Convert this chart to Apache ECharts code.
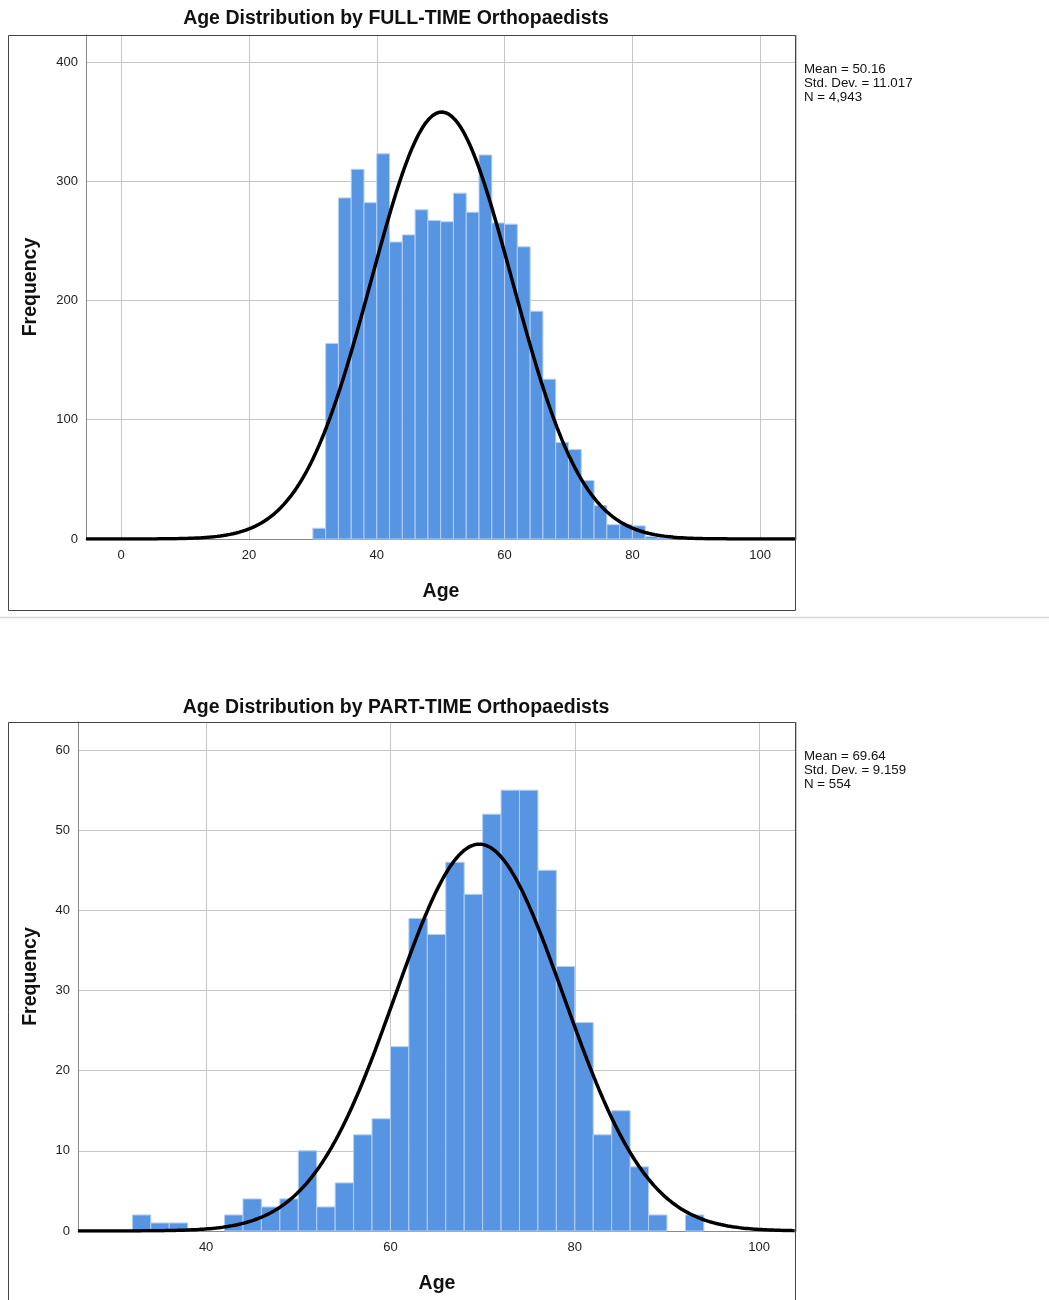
<!DOCTYPE html>
<html>
<head>
<meta charset="utf-8">
<title>Age Distribution by Orthopaedists</title>
<script src="https://cdn.jsdelivr.net/npm/echarts@6/dist/echarts.min.js"></script>
<style>
  html, body { margin: 0; padding: 0; background: #fff; }
  #chart { width: 1049px; height: 1300px; }
</style>
</head>
<body>
<div id="chart"></div>
<script>
// histogram bins are 2 years wide, labelled by their left edge
var BIN_WIDTH = 2;

var fullBinStarts = [30, 32, 34, 36, 38, 40, 42, 44, 46, 48, 50, 52, 54, 56,
  58, 60, 62, 64, 66, 68, 70, 72, 74, 76, 78, 80, 82, 84];
var fullCounts = [9, 164, 286, 310, 282, 323, 249, 255, 276, 267, 266, 290, 274, 322,
  265, 264, 245, 191, 134, 81, 75, 49, 28, 12, 12, 11, 2, 1];
var fullStats = { mean: 50.16, sd: 11.017, n: 4943 };
var fullStatLines = ["Mean = 50.16", "Std. Dev. = 11.017", "N = 4,943"];

var partBinStarts = [32, 34, 36, 38, 40, 42, 44, 46, 48, 50, 52, 54, 56, 58,
  60, 62, 64, 66, 68, 70, 72, 74, 76, 78, 80, 82, 84, 86, 88, 90, 92];
var partCounts = [2, 1, 1, 0, 0, 2, 4, 3, 4, 10, 3, 6, 12, 14,
  23, 39, 37, 46, 42, 52, 55, 55, 45, 33, 26, 12, 15, 8, 2, 0, 2];
var partStats = { mean: 69.64, sd: 9.159, n: 554 };
var partStatLines = ["Mean = 69.64", "Std. Dev. = 9.159", "N = 554"];

var FONT = "'Liberation Sans', Arial, sans-serif";
var BAR_COLOR = "#5795e3";
var GRID_COLOR = "#c6c6c6";

var chart = echarts.init(document.getElementById("chart"));

// normal curve as SPSS draws it: density scaled by N * bin width
function normalCurve(stats, xMin, xMax) {
  var pts = [];
  var k = stats.n * BIN_WIDTH / (stats.sd * Math.sqrt(2 * Math.PI));
  for (var x = xMin; x <= xMax + 0.001; x += 0.25) {
    var z = (x - stats.mean) / stats.sd;
    pts.push([x, k * Math.exp(-0.5 * z * z)]);
  }
  return pts;
}

function renderBin(params, api) {
  var start = api.value(0);
  var base = api.coord([start, 0]);
  var top = api.coord([start + BIN_WIDTH, api.value(1)]);
  if (api.value(1) <= 0) return null;
  return {
    type: "rect",
    shape: {
      x: base[0],
      y: top[1],
      width: top[0] - base[0],
      height: base[1] - top[1]
    },
    style: { fill: BAR_COLOR, stroke: "#b4cff2", lineWidth: 1 }
  };
}

function xAxisFor(gridIndex, min, max) {
  return {
    type: "value",
    gridIndex: gridIndex,
    min: min,
    max: max,
    minInterval: 20,
    maxInterval: 20,
    name: "Age",
    nameLocation: "middle",
    nameGap: 43,
    nameTextStyle: { fontFamily: FONT, fontSize: 19.5, fontWeight: "bold", color: "#111" },
    axisLine: { show: true, onZero: false, lineStyle: { color: "#8a8a8a", width: 1 } },
    axisTick: { show: false },
    axisLabel: {
      fontFamily: FONT, fontSize: 13, color: "#222", margin: 10,
      formatter: function (v) { return v % 20 === 0 ? String(v) : ""; }
    },
    splitLine: { show: true, lineStyle: { color: GRID_COLOR, width: 1 } }
  };
}

function yAxisFor(gridIndex, max, interval, gap) {
  return {
    type: "value",
    gridIndex: gridIndex,
    min: 0,
    max: max,
    interval: interval,
    name: "Frequency",
    nameLocation: "middle",
    nameGap: gap,
    nameTextStyle: { fontFamily: FONT, fontSize: 19.5, fontWeight: "bold", color: "#111" },
    axisLine: { show: true, onZero: false, lineStyle: { color: "#8a8a8a", width: 1 } },
    axisTick: { show: false },
    axisLabel: {
      fontFamily: FONT, fontSize: 13, color: "#222", margin: 8,
      formatter: function (v) { return v % interval === 0 ? String(v) : ""; }
    },
    splitLine: { show: true, lineStyle: { color: GRID_COLOR, width: 1 } }
  };
}

function statText(x, y, lines) {
  return {
    type: "text",
    x: x,
    y: y,
    style: {
      text: lines.join("\n"),
      fontFamily: FONT,
      fontSize: 13.3,
      lineHeight: 14,
      fill: "#111",
      align: "left",
      verticalAlign: "top"
    }
  };
}

function titleText(x, y, text) {
  return {
    type: "text",
    x: x,
    y: y,
    style: {
      text: text,
      fontFamily: FONT,
      fontSize: 19.5,
      fontWeight: "bold",
      fill: "#111",
      align: "center",
      verticalAlign: "middle"
    }
  };
}

var fullX = [-5.5, 105.6];
var partX = [26.1, 104.0];

var option = {
  backgroundColor: "#fff",
  animation: false,
  grid: [
    { left: 86, top: 35, width: 710, height: 504, outerBoundsMode: "none" },
    { left: 78, top: 722, width: 718, height: 509, outerBoundsMode: "none" }
  ],
  xAxis: [
    xAxisFor(0, fullX[0], fullX[1]),
    xAxisFor(1, partX[0], partX[1])
  ],
  yAxis: [
    yAxisFor(0, 422.6, 100, 45),
    yAxisFor(1, 63.5, 10, 37)
  ],
  graphic: {
    elements: [
      // outer boxes, like the SPSS chart frames
      { type: "rect", shape: { x: 8.5, y: 35.5, width: 787, height: 575 },
        style: { fill: "none", stroke: "#444", lineWidth: 1 }, z: 100 },
      { type: "rect", shape: { x: 8.5, y: 722.5, width: 787, height: 600 },
        style: { fill: "none", stroke: "#444", lineWidth: 1 }, z: 100 },
      { type: "line", shape: { x1: 0, y1: 617.5, x2: 1049, y2: 617.5 },
        style: { stroke: "#d6d6d6", lineWidth: 1.5 } },
      titleText(396, 19, "Age Distribution by FULL-TIME Orthopaedists"),
      titleText(396, 708, "Age Distribution by PART-TIME Orthopaedists"),
      statText(804, 62, fullStatLines),
      statText(804, 749, partStatLines)
    ]
  },
  series: [
    {
      type: "custom",
      xAxisIndex: 0,
      yAxisIndex: 0,
      renderItem: renderBin,
      data: fullBinStarts.map(function (s, i) { return [s, fullCounts[i]]; }),
      encode: { x: 0, y: 1 },
      z: 2
    },
    {
      type: "custom",
      xAxisIndex: 1,
      yAxisIndex: 1,
      renderItem: renderBin,
      data: partBinStarts.map(function (s, i) { return [s, partCounts[i]]; }),
      encode: { x: 0, y: 1 },
      z: 2
    },
    {
      type: "line",
      xAxisIndex: 0,
      yAxisIndex: 0,
      showSymbol: false,
      clip: true,
      data: normalCurve(fullStats, fullX[0], fullX[1]),
      lineStyle: { color: "#000", width: 3.5 },
      z: 5
    },
    {
      type: "line",
      xAxisIndex: 1,
      yAxisIndex: 1,
      showSymbol: false,
      clip: true,
      data: normalCurve(partStats, partX[0], partX[1]),
      lineStyle: { color: "#000", width: 3.5 },
      z: 5
    }
  ]
};

chart.setOption(option);
</script>
</body>
</html>
